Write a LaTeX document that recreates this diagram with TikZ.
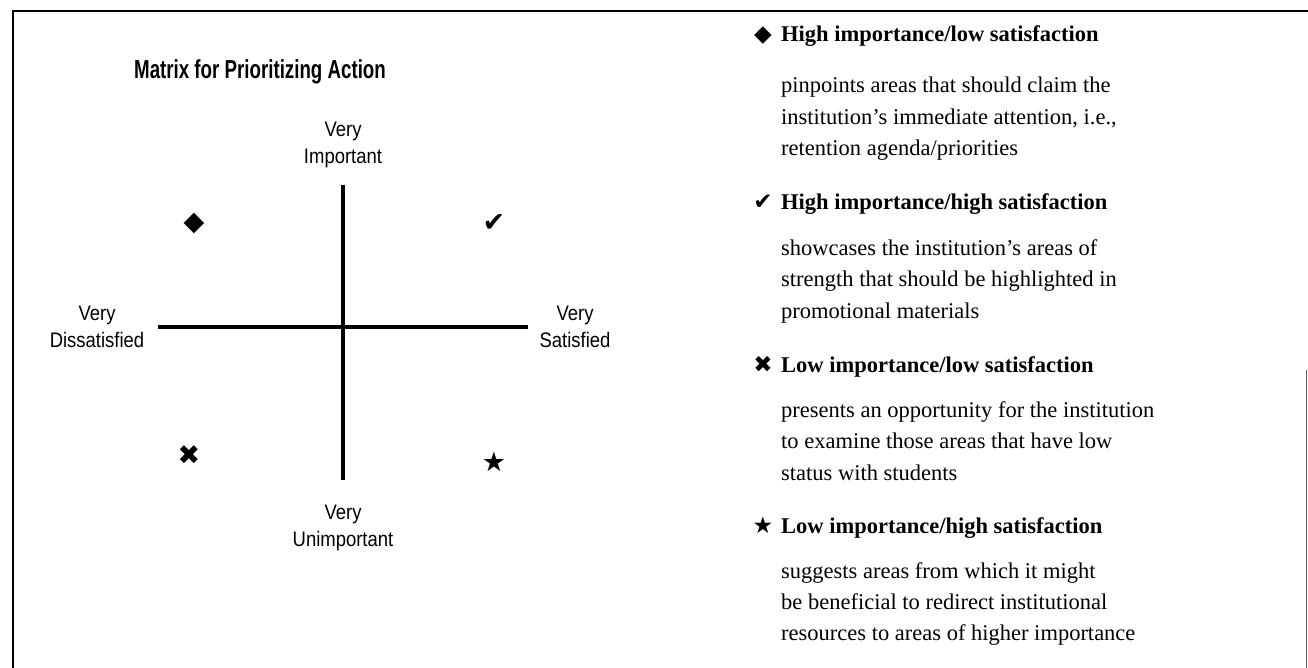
\documentclass[tikz,border=0pt]{standalone}
\usepackage{fontspec}
\setmainfont{Liberation Serif}
\newfontfamily\lblfont[FakeStretch=0.88]{Liberation Sans}
\newfontfamily\ttlfont[FakeStretch=0.72]{Liberation Sans}
\newfontfamily\symfont{DejaVu Sans}
\begin{document}
\begin{tikzpicture}[x=1pt,y=-1pt,
  frame/.style={line width=1.8pt},
  axis/.style={line width=4pt},
  lbl/.style={font=\lblfont\fontsize{21}{27}\selectfont, align=center, inner sep=0pt},
  ttl/.style={font=\ttlfont\bfseries\fontsize{26}{30}\selectfont, inner sep=0pt},
  sym/.style={font=\symfont\fontsize{27}{27}\selectfont, inner sep=0pt},
  bsym/.style={font=\symfont\fontsize{23}{23}\selectfont, inner sep=0pt, anchor=base},
  head/.style={font=\bfseries\fontsize{22.5}{30}\selectfont, inner sep=0pt, anchor=base west},
  body/.style={font=\fontsize{22.5}{30}\selectfont, inner sep=0pt, anchor=base west}]
\useasboundingbox (0,0) rectangle (1308,668);
% frame
\draw[frame] (13,668) -- (13,11) -- (1308,11);
\draw[line width=1pt, black!60] (1306,370) -- (1306,668);
% title
\node[ttl] (title) at (260,72) {Matrix for Prioritizing Action};
% axes
\coordinate (vt) at (343,185);
\coordinate (vb) at (343,480);
\coordinate (hl) at (158,327);
\coordinate (hr) at (528,327);
\draw[axis] (vt) -- (vb);
\draw[axis] (hl) -- (hr);
% axis labels
\node[lbl] (imp) at (343,145) {Very\\Important};
\node[lbl] (unimp) at (343,528) {Very\\Unimportant};
\node[lbl] (dis) at (97,327) {Very\\Dissatisfied};
\node[lbl] (sat) at (575,327) {Very\\Satisfied};
% quadrant symbols
\node[sym] (q1) at (194,223) {◆};
\node[sym] (q2) at (494,223) {✔};
\node[sym] (q3) at (189,455) {✖};
\node[sym] (q4) at (494,462) {★};
% right column
\node[bsym] (b1) at (763,42) {◆};
\node[head] (h1) at (781,42) {High importance/low satisfaction};
\node[body] (t1a) at (781,93) {pinpoints areas that should claim the};
\node[body] (t1b) at (781,124.5) {institution’s immediate attention, i.e.,};
\node[body] (t1c) at (781,156) {retention agenda/priorities};
\node[bsym] (b2) at (763,210) {✔};
\node[head] (h2) at (781,210) {High importance/high satisfaction};
\node[body] (t2a) at (781,255) {showcases the institution’s areas of};
\node[body] (t2b) at (781,286.5) {strength that should be highlighted in};
\node[body] (t2c) at (781,318) {promotional materials};
\node[bsym] (b3) at (763,372) {✖};
\node[head] (h3) at (781,372) {Low importance/low satisfaction};
\node[body] (t3a) at (781,417) {presents an opportunity for the institution};
\node[body] (t3b) at (781,448.5) {to examine those areas that have low};
\node[body] (t3c) at (781,480) {status with students};
\node[bsym] (b4) at (763,533) {★};
\node[head] (h4) at (781,533) {Low importance/high satisfaction};
\node[body] (t4a) at (781,578) {suggests areas from which it might};
\node[body] (t4b) at (781,609) {be beneficial to redirect institutional};
\node[body] (t4c) at (781,640) {resources to areas of higher importance};
\end{tikzpicture}
\end{document}
